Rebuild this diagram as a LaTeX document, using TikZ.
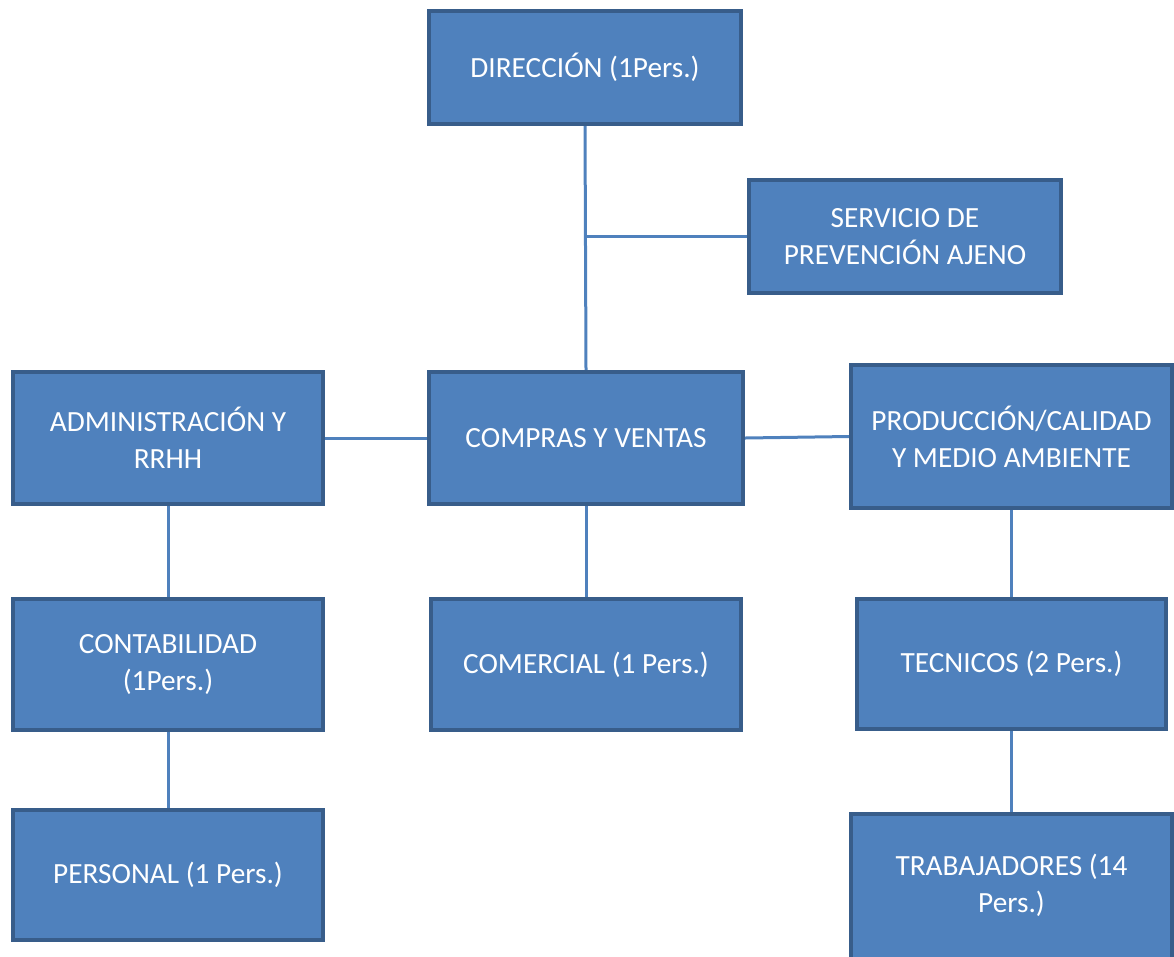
\documentclass[tikz,border=0pt]{standalone}
\usepackage{fontspec}
\setmainfont{Carlito}
\definecolor{boxfill}{HTML}{4F81BD}
\definecolor{boxline}{HTML}{385D8A}
\definecolor{linkc}{HTML}{4F81BD}
\begin{document}
\begin{tikzpicture}[x=1pt,y=-1pt,
  box/.style={draw=boxline, fill=boxfill, line width=3.8pt, text=white,
    align=center, inner sep=0pt,
    font=\fontsize{29.3}{37}\selectfont},
  link/.style={draw=linkc, line width=3pt}]
\useasboundingbox (0,0) rectangle (1174,956);
\clip (0,0) rectangle (1174,956);

% top level
\node[box, minimum width=312.5pt, minimum height=113.5pt] (dir) at (585,67.5) {DIRECCIÓN (1Pers.)};
\node[box, minimum width=312.5pt, minimum height=113.5pt] (spa) at (905,236.5) {SERVICIO DE\\PREVENCIÓN AJENO};

% middle row
\node[box, minimum width=310.5pt, minimum height=132.5pt] (adm) at (168,438) {ADMINISTRACIÓN Y\\RRHH};
\node[box, minimum width=314.5pt, minimum height=132.5pt] (cv) at (586,438) {COMPRAS Y VENTAS};
\node[box, minimum width=321.5pt, minimum height=143.5pt] (prod) at (1011.5,436.5) {PRODUCCIÓN/CALIDAD\\Y MEDIO AMBIENTE};

% third row
\node[box, minimum width=310.5pt, minimum height=131.5pt] (cont) at (168,664.5) {CONTABILIDAD\\(1Pers.)};
\node[box, minimum width=310.5pt, minimum height=131.5pt] (com) at (586,664.5) {COMERCIAL (1 Pers.)};
\node[box, minimum width=309.5pt, minimum height=130.5pt] (tec) at (1011.5,664) {TECNICOS (2 Pers.)};

% bottom row (the lower box runs past the page edge)
\node[box, minimum width=310.5pt, minimum height=130.5pt] (per) at (168,875) {PERSONAL (1 Pers.)};
\node[box, minimum width=321.5pt, minimum height=151.5pt] (trab) at (1011.5,889.5) {};
\node[font=\fontsize{29.3}{37}\selectfont, text=white, align=center, inner sep=0pt] (trabtxt) at (1011.5,885.5) {TRABAJADORES (14\\Pers.)};

% connectors
\coordinate (branch) at (spa.west -| dir.south);
\draw[link] (dir.south) -- (cv.north);
\draw[link] (branch) -- (spa.west);
\draw[link] (adm.east) -- (cv.west);
\draw[link] (cv.east) -- (prod.west);
\draw[link] (adm.south) -- (cont.north);
\draw[link] (cont.south) -- (per.north);
\draw[link] (cv.south) -- (com.north);
\draw[link] (prod.south) -- (tec.north);
\draw[link] (tec.south) -- (trab.north);
\end{tikzpicture}
\end{document}
